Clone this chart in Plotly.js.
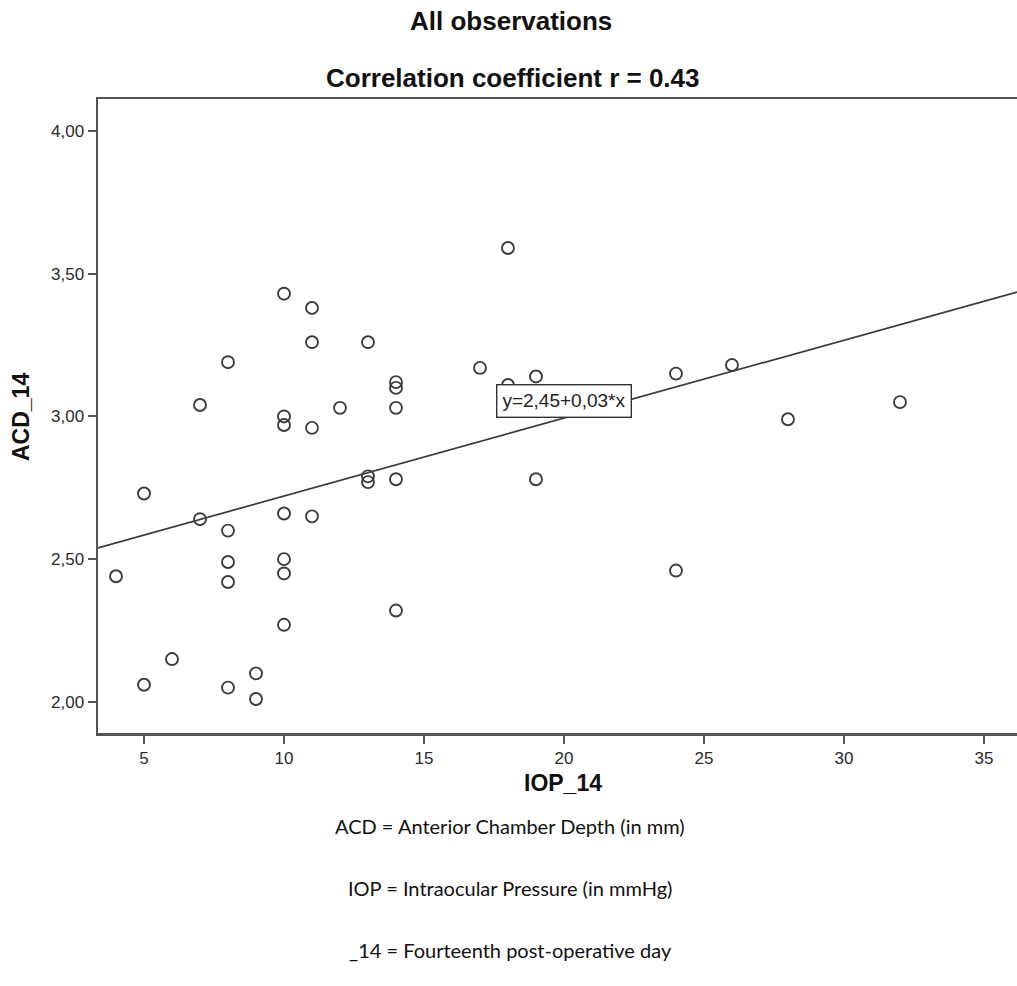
<!DOCTYPE html>
<html>
<head>
<meta charset="utf-8">
<script src="https://cdn.plot.ly/plotly-3.0.1.min.js"></script>
<style>html,body{margin:0;padding:0;background:#fff;}#chart{width:1017px;height:986px;}</style>
</head>
<body>
<div id="chart"></div>
<script>
// IOP_14 (mmHg) and ACD_14 (mm) observations
const iop14 = [4, 5, 5, 6, 7, 7, 8, 8, 8, 8, 8, 9, 9,
  10, 10, 10, 10, 10, 10, 10, 11, 11, 11, 11, 12, 13, 13, 13,
  14, 14, 14, 14, 14, 17, 18, 18, 19, 19, 24, 24, 26, 28, 32];
const acd14 = [2.44, 2.73, 2.06, 2.15, 3.04, 2.64, 3.19, 2.60, 2.49, 2.42, 2.05, 2.10, 2.01,
  3.43, 3.00, 2.97, 2.66, 2.50, 2.45, 2.27, 3.38, 3.26, 2.96, 2.65, 3.03, 3.26, 2.79, 2.77,
  3.12, 3.10, 3.03, 2.78, 2.32, 3.17, 3.59, 3.11, 3.14, 2.78, 3.15, 2.46, 3.18, 2.99, 3.05];
// fit line as drawn: intercept, slope
const fitCoef = [2.448, 0.0273];
const fitLabel = "y=2,45+0,03*x";
const xRange = [3.357, 36.18];
const yRange = [1.891, 4.112];
const xTicks = [5, 10, 15, 20, 25, 30, 35];
const yTicks = [2.0, 2.5, 3.0, 3.5, 4.0];
const titleLines = ["All observations", "Correlation coefficient r = 0.43"];
const axisTitles = ["IOP_14", "ACD_14"];
const notes = ["ACD = Anterior Chamber Depth (in mm)", "IOP = Intraocular Pressure (in mmHg)", "_14 = Fourteenth post-operative day"];

const fitX = xRange.slice();
const fitY = fitX.map(v => fitCoef[0] + fitCoef[1] * v);

const traces = [
  {
    x: fitX, y: fitY, mode: 'lines', type: 'scatter',
    line: {color: '#3a3a3a', width: 1.7}, hoverinfo: 'skip', showlegend: false
  },
  {
    x: iop14, y: acd14, mode: 'markers', type: 'scatter', showlegend: false,
    marker: {symbol: 'circle-open', size: 12, color: '#3c3c3c', line: {width: 1.9, color: '#3c3c3c'}}
  }
];

const TOP = 99, BOT = 733, LEFT = 98, W = 1017;
const H = BOT - TOP;
function py(p) { return (BOT - p) / H; }
function px(p) { return (p - LEFT) / (W - LEFT); }

const titleFont = {family: 'Liberation Sans, Arial', size: 26, color: '#111'};
const axisTitleFont = {family: 'Liberation Sans, Arial', size: 23, color: '#111'};
const noteFont = {family: 'Lato, Open Sans, sans-serif', size: 20, color: '#111'};

const annotations = [
  {text: '<b>' + titleLines[0] + '</b>', xref: 'paper', yref: 'paper', x: px(511), y: py(21), showarrow: false,
   xanchor: 'center', yanchor: 'middle', font: titleFont},
  {text: '<b>' + titleLines[1] + '</b>', xref: 'paper', yref: 'paper', x: px(513), y: py(78), showarrow: false,
   xanchor: 'center', yanchor: 'middle', font: titleFont},
  {text: '<b>' + axisTitles[0] + '</b>', xref: 'paper', yref: 'paper', x: px(563), y: py(783), showarrow: false,
   xanchor: 'center', yanchor: 'middle', font: axisTitleFont},
  {text: '<b>' + axisTitles[1] + '</b>', xref: 'paper', yref: 'paper', x: px(21), y: py(417), showarrow: false,
   textangle: -90, xanchor: 'center', yanchor: 'middle', font: axisTitleFont},
  {text: fitLabel, xref: 'x', yref: 'y', x: 20.0, y: 3.053, showarrow: false, xanchor: 'center', yanchor: 'middle',
   bgcolor: '#ffffff', bordercolor: '#333', borderwidth: 1.4, borderpad: 5,
   font: {family: 'Liberation Sans, Arial', size: 19, color: '#222'}},
  {text: notes[0], xref: 'paper', yref: 'paper', x: px(510), y: py(826), showarrow: false, xanchor: 'center', yanchor: 'middle',
   font: noteFont},
  {text: notes[1], xref: 'paper', yref: 'paper', x: px(510), y: py(888), showarrow: false, xanchor: 'center', yanchor: 'middle',
   font: noteFont},
  {text: notes[2], xref: 'paper', yref: 'paper', x: px(510), y: py(950), showarrow: false, xanchor: 'center', yanchor: 'middle',
   font: noteFont}
];

const tickFont = {family: 'Liberation Sans, Arial', size: 17, color: '#2a2a2a'};

const layout = {
  width: 1017, height: 986,
  margin: {l: LEFT, r: 0, t: TOP, b: 986 - BOT},
  paper_bgcolor: '#fff', plot_bgcolor: '#fff',
  separators: ',.',
  showlegend: false,
  xaxis: {
    range: xRange, tickvals: xTicks, ticktext: xTicks.map(String),
    showgrid: false, zeroline: false,
    showline: true, linecolor: '#555', linewidth: 2.5, mirror: true,
    ticks: 'outside', ticklen: 8, tickwidth: 2, tickcolor: '#555',
    tickfont: tickFont
  },
  yaxis: {
    range: yRange, tickvals: yTicks, tickformat: '.2f',
    showgrid: false, zeroline: false,
    showline: true, linecolor: '#555', linewidth: 2.5, mirror: false,
    ticks: 'outside', ticklen: 8, tickwidth: 2, tickcolor: '#555',
    tickfont: tickFont
  },
  annotations: annotations
};

Plotly.newPlot('chart', traces, layout, {displayModeBar: false, staticPlot: true});
</script>
</body>
</html>
